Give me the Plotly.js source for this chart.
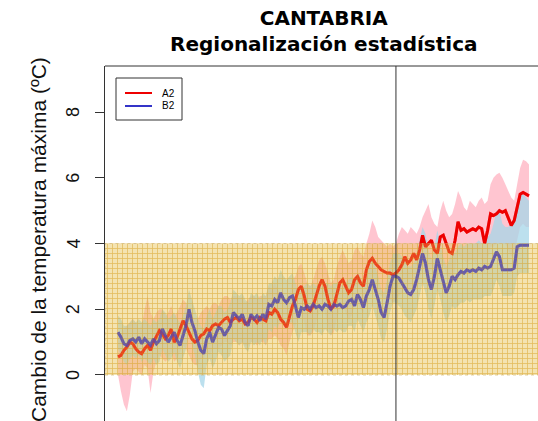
<!DOCTYPE html>
<html><head><meta charset="utf-8">
<script src="https://cdn.plot.ly/plotly-3.0.1.min.js"></script>
<style>html,body{margin:0;padding:0;overflow:hidden;background:#fff}#chart{width:541px;height:421px}</style>
</head><body><div id="chart"></div>
<script>
// ---- data ----
const FIRST_YEAR = 1961;
const LAST_YEAR = 2100;
const DIVIDER_YEAR = 2055;
const HATCH_LOW = 0;
const HATCH_HIGH = 4;
const X_RANGE = [1956.6, 2104.06];
const Y_RANGE = [-1.4, 9.4];
const Y_TICKS = [0, 2, 4, 6, 8];
const Y_TICK_LABELS = ['0', '2', '4', '6', '8'];
const SERIES_NAMES = ['A2', 'B2'];
const SERIES_COLORS = ['#ee0000', '#3434c8'];

const a2Mean = [
 0.55,0.6,0.75,0.85,1.0, 0.95,0.8,0.7,0.65,0.8, 0.9,0.75,1.0,1.2,1.35, 1.25,1.1,1.2,1.4,1.0,
 1.15,1.4,1.65,1.5,1.3, 1.1,1.0,1.05,1.2,1.25, 1.4,1.35,1.5,1.55,1.5, 1.6,1.7,1.75,1.6,1.7,
 1.75,1.65,1.7,1.55,1.6, 1.75,1.7,1.6,1.75,1.7, 1.65,1.9,1.85,2.0,1.9, 1.7,1.6,1.45,1.8,2.1,
 2.3,2.6,2.7,2.4,2.0, 1.95,2.1,2.4,2.7,2.9, 2.7,2.3,2.0,2.1,2.5, 2.8,2.9,2.7,2.5,2.6,
 2.9,3.0,2.8,2.7,3.2, 3.45,3.55,3.4,3.3,3.2, 3.15,3.1,3.1,3.05,3.1, 3.2,3.35,3.6,3.4,3.5,
 3.7,3.5,3.8,4.25,3.9, 4.0,4.1,3.8,3.7,4.2, 4.25,4.0,3.75,3.7,4.1, 4.66,4.4,4.45,4.35,4.4,
 4.45,4.4,4.5,4.45,4.0, 4.4,4.9,4.85,4.9,5.0, 4.95,5.0,4.8,4.55,4.7, 5.1,5.5,5.55,5.5,5.45
];
const b2Mean = [
 1.3,1.15,0.95,0.9,1.05, 1.1,1.0,1.15,0.95,1.1, 1.0,0.9,1.1,0.95,1.05, 1.4,1.2,1.0,1.15,1.3,
 1.05,0.9,1.2,1.5,2.0, 1.6,1.35,1.0,0.75,0.65, 1.1,1.3,1.0,1.2,1.45, 1.4,1.2,1.35,1.5,1.9,
 1.8,1.7,1.85,1.6,1.5, 1.85,1.7,1.8,1.65,1.85, 1.7,2.15,2.1,2.3,2.2, 2.5,2.3,2.2,2.35,2.4,
 2.1,1.75,2.05,2.0,2.1, 2.0,2.15,2.05,2.1,2.0, 2.15,2.1,2.0,2.15,2.1, 2.15,2.05,2.1,2.25,2.3,
 2.1,2.45,2.3,2.05,2.4, 2.6,2.9,2.6,2.3,1.9, 1.75,2.2,2.7,3.0,3.0, 2.95,2.8,2.65,2.5,2.45,
 2.6,2.9,3.3,3.7,3.4, 2.9,2.6,3.0,3.55,3.2, 2.8,2.5,2.7,3.0,2.9, 3.05,3.15,3.1,3.2,3.15,
 3.2,3.15,3.25,3.2,3.3, 3.25,3.3,3.5,3.75,3.6, 3.2,3.2,3.2,3.2,3.25, 3.9,3.95,3.95,3.95,3.95
];
const a2Upper = [
 1.3,1.2,1.4,1.5,1.6,1.7,1.6,1.4,1.5,2.0, 2.4,1.9,1.7,1.9,2.0,2.0,1.8,1.9,2.1,1.8,
 1.9,2.1,2.3,2.2,2.0,1.8,1.7,1.7,1.9,2.0, 2.1,2.0,2.2,2.2,2.1,2.3,2.4,2.4,2.3,2.4,
 2.4,2.3,2.4,2.2,2.3,2.4,2.4,2.3,2.4,2.4, 2.4,2.7,2.6,2.8,2.6,2.5,2.4,2.2,2.5,2.9,
 3.0,3.3,3.4,3.1,2.8,2.7,2.9,3.2,3.5,3.6, 3.4,3.1,2.8,2.9,3.3,3.6,3.8,3.6,3.4,3.5,
 3.8,3.9,3.7,3.6,4.0,4.3,4.7,4.5,4.2,4.1, 4.0,3.9,4.0,3.9,4.0,4.3,4.5,4.4,4.3,4.5,
 4.4,4.3,4.5,4.8,5.0,5.2,4.8,4.6,4.5,5.0, 5.3,5.0,4.8,4.9,5.2,5.6,5.4,5.1,5.0,5.3,
 5.2,5.1,5.3,5.4,5.2,5.3,5.8,6.0,6.1,6.15, 6.0,5.8,5.6,5.4,5.3,5.8,6.3,6.55,6.5,6.4
];
const a2Lower = [
 0.0,-0.5,-0.9,-1.1,-0.6,0.1,0.2,0.1,0.0,0.3, 0.2,-0.55,0.1,0.4,0.6,0.5,0.4,0.5,0.7,0.4,
 0.5,0.7,0.9,0.8,0.6,0.4,0.3,0.3,0.5,0.5, 0.7,0.6,0.8,0.8,0.8,0.9,1.0,1.0,0.9,1.0,
 1.0,0.9,1.0,0.9,0.9,1.0,1.0,0.9,1.0,1.0, 0.9,1.1,1.1,1.2,1.1,0.9,0.8,0.6,1.0,1.3,
 1.5,1.8,1.9,1.6,1.2,1.2,1.3,1.6,1.9,2.1, 1.9,1.5,1.2,1.3,1.7,2.0,2.1,1.9,1.7,1.8,
 2.1,2.2,2.0,1.9,2.4,2.6,2.7,2.6,2.5,2.4, 2.3,2.3,2.3,2.2,2.3,2.4,2.5,2.7,2.5,2.6,
 2.8,2.6,2.9,3.3,3.0,3.1,3.2,2.9,2.8,3.3, 3.3,3.1,2.8,2.8,3.2,3.7,3.5,3.5,3.4,3.5,
 3.5,3.4,3.6,3.5,3.1,3.5,3.9,3.9,4.0,4.0, 4.0,4.0,3.8,3.6,3.7,4.1,4.5,4.6,4.5,4.5
];
const b2Upper = [
 1.8,1.7,1.5,1.5,1.6,1.7,1.6,1.7,1.6,1.7, 1.6,1.5,1.7,1.6,1.7,2.0,1.9,1.7,1.8,1.9,
 1.7,1.6,1.8,2.1,2.6,2.3,2.0,1.7,1.5,1.4, 1.8,2.0,1.7,1.9,2.1,2.1,1.9,2.0,2.2,2.6,
 2.5,2.4,2.5,2.3,2.2,2.5,2.4,2.5,2.3,2.5, 2.4,2.8,2.8,3.0,2.9,3.2,3.0,2.9,3.0,3.1,
 2.8,2.5,2.7,2.7,2.8,2.7,2.8,2.7,2.8,2.7, 2.8,2.8,2.7,2.8,2.8,2.8,2.7,2.8,2.9,3.0,
 2.8,3.1,3.0,2.7,3.1,3.3,3.6,3.3,3.0,2.6, 2.5,2.9,3.4,3.7,3.7,3.7,3.6,3.5,3.3,3.3,
 3.4,3.7,4.1,4.5,4.3,3.8,3.5,3.9,4.4,4.0, 3.6,3.3,3.5,3.8,3.7,3.9,4.0,3.9,4.0,4.0,
 4.0,4.0,4.1,4.0,4.1,4.2,4.3,4.6,5.0,5.0, 4.6,4.5,4.5,4.6,4.8,5.2,5.5,5.5,5.4,5.3
];
const b2Lower = [
 0.8,0.6,0.4,0.3,0.5,0.6,0.5,0.6,0.4,0.5, 0.4,0.3,0.5,0.3,0.4,0.8,0.6,0.4,0.5,0.7,
 0.4,0.2,0.5,0.8,1.3,0.9,0.6,0.1,-0.3,-0.4, 0.3,0.5,0.2,0.4,0.7,0.6,0.4,0.5,0.6,1.1,
 1.0,0.9,1.0,0.8,0.7,1.0,0.9,1.0,0.9,1.1, 0.9,1.4,1.3,1.5,1.4,1.7,1.5,1.4,1.6,1.6,
 1.3,1.0,1.3,1.3,1.3,1.2,1.4,1.3,1.3,1.2, 1.4,1.3,1.2,1.4,1.3,1.4,1.3,1.3,1.5,1.5,
 1.3,1.7,1.5,1.3,1.6,1.8,2.1,1.8,1.5,1.1, 1.0,1.4,1.9,2.2,2.2,2.1,2.0,1.8,1.7,1.6,
 1.8,2.0,2.4,2.8,2.5,2.0,1.7,2.1,2.6,2.3, 1.9,1.6,1.8,2.1,2.0,2.1,2.2,2.2,2.3,2.2,
 2.3,2.3,2.3,2.3,2.4,2.4,2.4,2.6,2.9,2.7, 2.4,2.4,2.4,2.4,2.5,3.0,3.1,3.1,3.1,3.1
];

// ---- build ----
const years = [];
for (let y = FIRST_YEAR; y <= LAST_YEAR; y++) years.push(y);
const rev = a => a.slice().reverse();
function band(upper, lower, color, name) {
  return {x: years.concat(rev(years)), y: upper.concat(rev(lower)), type: 'scatter', mode: 'none',
    fill: 'toself', fillcolor: color, hoverinfo: 'skip', showlegend: false, name: name};
}
function meanLine(vals, i, opacity) {
  return {x: years, y: vals, type: 'scatter', mode: 'lines', name: SERIES_NAMES[i], opacity: opacity,
    hoverinfo: 'skip', line: {color: SERIES_COLORS[i], width: 3}};
}
const traces = [
  band(a2Upper, a2Lower, 'rgba(255,182,196,0.8)', 'A2 rango'),
  band(b2Upper, b2Lower, 'rgba(165,214,232,0.75)', 'B2 rango'),
  meanLine(a2Mean, 0, 1),
  meanLine(b2Mean, 1, 1),
  // hatched 0-4 zone drawn over the curves
  {x: [X_RANGE[0], X_RANGE[1], X_RANGE[1], X_RANGE[0], X_RANGE[0]],
   y: [HATCH_LOW, HATCH_LOW, HATCH_HIGH, HATCH_HIGH, HATCH_LOW],
   type: 'scatter', mode: 'lines', fill: 'toself', showlegend: false, hoverinfo: 'skip',
   line: {color: 'rgba(210,185,120,0.7)', width: 1, dash: 'dot'},
   fillcolor: 'rgba(232,196,95,0.5)',
   fillpattern: {shape: '+', size: 5, solidity: 0.28, fgcolor: 'rgb(214,158,30)', fgopacity: 0.6,
                 bgcolor: 'rgba(234,200,100,0.5)'}},
  // curves show through the hatch
  meanLine(a2Mean, 0, 0.35),
  meanLine(b2Mean, 1, 0.45)
];

// px -> paper helpers for the fixed frame of this figure
const L = 105, T = 66, W = 436, H = 355;
const px = v => (v - L) / W;
const py = v => (T + H - v) / H;

const annotations = [
  {text: '<b>CANTABRIA</b><br><b>Regionalización estadística</b>', xref: 'paper', yref: 'paper',
   x: px(323), y: py(31), xanchor: 'center', yanchor: 'middle', showarrow: false,
   font: {family: 'DejaVu Sans', size: 20, color: '#000'}},
  {text: 'Cambio de la temperatura máxima (ºC)', xref: 'paper', yref: 'paper', x: px(38), y: py(240),
   xanchor: 'center', yanchor: 'middle', textangle: -90, showarrow: false,
   font: {family: 'Liberation Sans', size: 21, color: '#111'}}
];
Y_TICKS.forEach((v, i) => annotations.push({
  text: Y_TICK_LABELS[i], xref: 'paper', yref: 'y', x: px(73), y: v, xanchor: 'center', yanchor: 'middle',
  textangle: -90, showarrow: false, font: {family: 'Liberation Sans', size: 18, color: '#111'}}));
// legend drawn as a box with two line samples
const legendRows = [93, 106];
SERIES_NAMES.forEach((n, i) => annotations.push({
  text: n, xref: 'paper', yref: 'paper', x: px(160), y: py(legendRows[i]), xanchor: 'left', yanchor: 'middle',
  showarrow: false, font: {family: 'Liberation Sans', size: 10, color: '#000'}}));

const shapes = [
  {type: 'line', xref: 'paper', yref: 'paper', x0: 0, x1: 1, y0: 1, y1: 1, line: {color: '#333', width: 1}},
  {type: 'line', xref: 'x', yref: 'paper', x0: DIVIDER_YEAR, x1: DIVIDER_YEAR, y0: 0, y1: 1,
   line: {color: '#333', width: 1}},
  {type: 'rect', xref: 'paper', yref: 'paper', x0: px(116), x1: px(182), y0: py(120), y1: py(78),
   line: {color: '#333', width: 1}, fillcolor: '#fff', layer: 'above'}
];
SERIES_NAMES.forEach((n, i) => shapes.push({
  type: 'line', xref: 'paper', yref: 'paper', x0: px(125), x1: px(152), y0: py(legendRows[i]), y1: py(legendRows[i]),
  line: {color: SERIES_COLORS[i], width: 2}, layer: 'above'}));

const layout = {
  width: 541, height: 421,
  margin: {l: L, r: 0, t: T, b: 0, pad: 0},
  paper_bgcolor: '#fff', plot_bgcolor: '#fff',
  showlegend: false,
  xaxis: {range: X_RANGE, showgrid: false, zeroline: false, showticklabels: false, ticks: '',
          showline: false, fixedrange: true},
  yaxis: {range: Y_RANGE, tickvals: Y_TICKS, showticklabels: false,
          ticks: 'outside', ticklen: 9, tickcolor: '#333', tickwidth: 1,
          showline: true, linecolor: '#333', linewidth: 1, showgrid: false, zeroline: false,
          fixedrange: true},
  shapes: shapes,
  annotations: annotations
};
Plotly.newPlot('chart', traces, layout, {displayModeBar: false, staticPlot: true});
</script></body></html>
